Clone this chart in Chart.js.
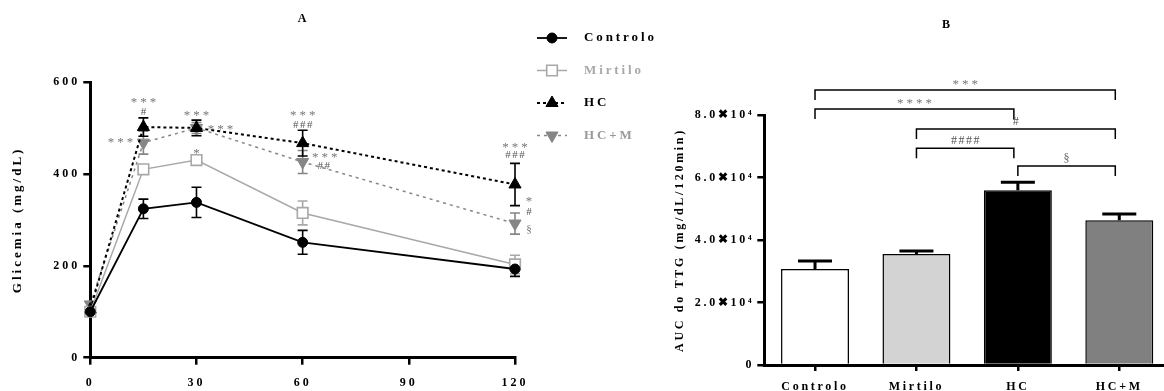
<!DOCTYPE html>
<html lang="pt">
<head>
<meta charset="UTF-8">
<meta name="viewport" content="width=device-width, initial-scale=1.0">
<title>Glicemia - TTG</title>
<script src="https://cdn.jsdelivr.net/npm/chart.js"></script>
<style>
  html, body { margin: 0; padding: 0; background: #fff; overflow: hidden; }
  #wrapA { position: absolute; left: 0; top: 0; width: 672px; height: 391px; }
  #wrapB { position: absolute; left: 672px; top: 0; width: 500px; height: 391px; }
</style>
</head>
<body>
<div id="wrapA"><canvas id="chartA"></canvas></div>
<div id="wrapB"><canvas id="chartB"></canvas></div>

<script>
// Painel A - glicemia ao longo do TTG (min)
const tempos = [0, 15, 30, 60, 120];
const grupos = ['Controlo', 'Mirtilo', 'HC', 'HC+M'];
const glicControlo = [100, 324, 338, 251, 193];
const glicMirtilo  = [100, 410, 430, 315, 203];
const glicHC       = [105, 502, 500, 467, 377];
const glicHCM      = [116, 468, 500, 426, 292];
const semControlo  = [6, 21, 33, 26, 16];
const semMirtilo   = [5, 10, 8, 26, 20];
const semHC        = [5, 20, 17, 28, 46];
const semHCM       = [5, 25, 12, 25, 23];
const xTicksA = [0, 30, 60, 90, 120];
const yTicksA = [0, 200, 400, 600];

// Painel B - AUC do TTG
const aucMedia = [30700, 35500, 55900, 46300];
const aucSem   = [2600, 1000, 2600, 2000];
const yTicksB  = [0, 20000, 40000, 60000, 80000];

const fonte = '"Liberation Serif", "Times New Roman", serif';
Chart.defaults.font.family = fonte;
Chart.defaults.color = '#000';

const medias = [glicControlo, glicMirtilo, glicHC, glicHCM];
const erros = [semControlo, semMirtilo, semHC, semHCM];

const estilos = [
  { cor: '#000000', ponto: 'circle',   raio: 5,   fundo: '#000000', traco: [],     largura: 1.8, rot: 0,   borda: 1,   texto: '#000000' },
  { cor: '#a8a8a8', ponto: 'rect',     raio: 7.5, fundo: '#ffffff', traco: [],     largura: 1.5, rot: 0,   borda: 1.6, texto: '#a8a8a8' },
  { cor: '#000000', ponto: 'triangle', raio: 7,   fundo: '#000000', traco: [3, 3], largura: 2,   rot: 0,   borda: 1,   texto: '#000000' },
  { cor: '#868686', ponto: 'triangle', raio: 7,   fundo: '#868686', traco: [3, 4], largura: 1.5, rot: 180, borda: 1,   texto: '#9a9a9a' }
];

// espacamento das letras (texto do GraphPad)
const espacamento = {
  id: 'espacamento',
  beforeLayout(chart, args, opts) { chart.ctx.letterSpacing = opts.px + 'px'; },
  beforeDraw(chart, args, opts) { chart.ctx.letterSpacing = opts.px + 'px'; }
};

const tituloPainel = {
  id: 'tituloPainel',
  afterDraw(chart, args, opts) {
    const ctx = chart.ctx;
    ctx.save();
    ctx.font = 'bold 12px ' + fonte;
    ctx.letterSpacing = '0px';
    ctx.fillStyle = '#000';
    ctx.textAlign = 'center';
    ctx.textBaseline = 'middle';
    ctx.fillText(opts.texto, opts.x, opts.y);
    ctx.restore();
  }
};

function eixoBase(extra) {
  return Object.assign({
    grid: { drawOnChartArea: false, drawTicks: true, tickLength: 7, lineWidth: 2.5, color: '#000' },
    border: { width: 3, color: '#000' },
    ticks: { color: '#000', font: { size: 12, weight: 'bold' } }
  }, extra);
}

// ---------- Painel A ----------
const barrasErroA = {
  id: 'barrasErroA',
  beforeDatasetsDraw(chart) {
    const { ctx, scales: { x, y } } = chart;
    ctx.save();
    ctx.setLineDash([]);
    for (let i = chart.data.datasets.length - 1; i >= 0; i--) {
      const ds = chart.data.datasets[i];
      ctx.strokeStyle = estilos[i].cor;
      ctx.lineWidth = 1.6;
      ds.data.forEach((p, k) => {
        const px = x.getPixelForValue(p.x);
        const y1 = y.getPixelForValue(p.y + erros[i][k]);
        const y2 = y.getPixelForValue(p.y - erros[i][k]);
        ctx.beginPath();
        ctx.moveTo(px, y1); ctx.lineTo(px, y2);
        ctx.moveTo(px - 5, y1); ctx.lineTo(px + 5, y1);
        ctx.moveTo(px - 5, y2); ctx.lineTo(px + 5, y2);
        ctx.stroke();
      });
    }
    ctx.restore();
  }
};

// significancias: serie, tempo, texto e deslocamento em px
const notasA = [
  { s: 2, t: 15,  txt: '***', dx: 0,  dy: -26, cor: '#777' },
  { s: 2, t: 15,  txt: '#',   dx: 0,  dy: -15, cor: '#555' },
  { s: 3, t: 15,  txt: '***', dx: -23, dy: -2, cor: '#777' },
  { s: 2, t: 30,  txt: '***', dx: 0,  dy: -14, cor: '#777' },
  { s: 3, t: 30,  txt: '***', dx: 24, dy: 0,   cor: '#777' },
  { s: 1, t: 30,  txt: '*',   dx: 0,  dy: -9,  cor: '#777' },
  { s: 2, t: 60,  txt: '***', dx: 0,  dy: -30, cor: '#777' },
  { s: 2, t: 60,  txt: '###', dx: 0,  dy: -18, cor: '#555' },
  { s: 3, t: 60,  txt: '***', dx: 22, dy: -6,  cor: '#777' },
  { s: 3, t: 60,  txt: '##',  dx: 21, dy: 4,   cor: '#555' },
  { s: 2, t: 120, txt: '***', dx: 0,  dy: -39, cor: '#777' },
  { s: 2, t: 120, txt: '###', dx: 0,  dy: -29, cor: '#555' },
  { s: 3, t: 120, txt: '*',   dx: 14, dy: -24, cor: '#777' },
  { s: 3, t: 120, txt: '#',   dx: 14, dy: -11, cor: '#555' },
  { s: 3, t: 120, txt: '§',   dx: 14, dy: 6,   cor: '#777' }
];

const notasPluginA = {
  id: 'notasPluginA',
  afterDatasetsDraw(chart) {
    const { ctx, scales: { x, y } } = chart;
    ctx.save();
    ctx.textAlign = 'center';
    ctx.textBaseline = 'middle';
    notasA.forEach(n => {
      const k = tempos.indexOf(n.t);
      const px = x.getPixelForValue(n.t) + n.dx;
      const py = y.getPixelForValue(medias[n.s][k]) + n.dy;
      const ast = n.txt.indexOf('*') >= 0;
      ctx.font = (ast ? '13px ' : '11px ') + fonte;
      ctx.letterSpacing = ast ? '3px' : '1.5px';
      ctx.fillStyle = n.cor;
      ctx.fillText(n.txt, px + (ast ? 1.5 : 0.75), py + (ast ? 2 : 0));
    });
    ctx.restore();
  }
};

const legendaA = {
  id: 'legendaA',
  afterDraw(chart) {
    const ctx = chart.ctx;
    ctx.save();
    chart.data.datasets.forEach((ds, i) => {
      const y = 38 + i * 32.5;
      ctx.strokeStyle = ds.borderColor;
      ctx.lineWidth = ds.borderWidth;
      ctx.setLineDash(ds.borderDash);
      ctx.beginPath();
      ctx.moveTo(537, y); ctx.lineTo(567, y);
      ctx.stroke();
      ctx.setLineDash([]);
      ctx.fillStyle = ds.pointBackgroundColor;
      ctx.strokeStyle = ds.pointBorderColor;
      ctx.lineWidth = ds.pointBorderWidth;
      Chart.helpers.drawPoint(ctx, {
        pointStyle: ds.pointStyle, radius: ds.pointRadius,
        rotation: ds.pointRotation, borderWidth: ds.pointBorderWidth
      }, 552, y);
      ctx.font = 'bold 13px ' + fonte;
      ctx.letterSpacing = '2.9px';
      ctx.fillStyle = estilos[i].texto;
      ctx.textAlign = 'left';
      ctx.textBaseline = 'middle';
      ctx.fillText(ds.label, 584, y);
    });
    ctx.restore();
  }
};

new Chart(document.getElementById('chartA'), {
  type: 'line',
  data: {
    datasets: grupos.map((g, i) => ({
      label: g,
      data: tempos.map((t, k) => ({ x: t, y: medias[i][k] })),
      borderColor: estilos[i].cor,
      backgroundColor: estilos[i].fundo,
      borderWidth: estilos[i].largura,
      borderDash: estilos[i].traco,
      pointStyle: estilos[i].ponto,
      pointRadius: estilos[i].raio,
      pointRotation: estilos[i].rot,
      pointBackgroundColor: estilos[i].fundo,
      pointBorderColor: estilos[i].cor,
      pointBorderWidth: estilos[i].borda,
      tension: 0,
      clip: false
    }))
  },
  options: {
    responsive: true,
    maintainAspectRatio: false,
    animation: false,
    layout: { padding: { top: 82, left: 8, right: 157, bottom: 0 } },
    plugins: {
      legend: { display: false },
      tooltip: { enabled: false },
      espacamento: { px: 3 },
      tituloPainel: { texto: 'A', x: 302, y: 19 }
    },
    scales: {
      x: eixoBase({
        type: 'linear', min: 0, max: 120,
        afterBuildTicks(s) { s.ticks = xTicksA.map(v => ({ value: v })); },
        afterFit(s) { s.height = 33.3; },
        ticks: { color: '#000', padding: 11, maxRotation: 0, font: { size: 12, weight: 'bold' } }
      }),
      y: eixoBase({
        min: 0, max: 600,
        afterBuildTicks(s) { s.ticks = yTicksA.map(v => ({ value: v })); },
        afterFit(s) { s.width = 82.3; },
        ticks: { color: '#000', padding: 3, font: { size: 12, weight: 'bold' } },
        title: { display: true, text: 'Glicemia (mg/dL)', color: '#000',
                 font: { size: 13, weight: 'bold' }, padding: { top: 2, bottom: 0 } }
      })
    }
  },
  plugins: [espacamento, barrasErroA, notasPluginA, legendaA, tituloPainel]
});

// ---------- Painel B ----------
const coresBarras = ['#ffffff', '#d3d3d3', '#000000', '#808080'];

// comparacoes (indice das barras, altura na escala, texto)
const chavesB = [
  { de: 0, ate: 3, nivel: 88000, txt: '***',  cor: '#777' },
  { de: 0, ate: 2, nivel: 81900, txt: '****', cor: '#777' },
  { de: 1, ate: 3, nivel: 75500, txt: '#',    cor: '#555' },
  { de: 1, ate: 2, nivel: 69400, txt: '####', cor: '#555' },
  { de: 2, ate: 3, nivel: 63700, txt: '§',    cor: '#666' }
];

const errosB = {
  id: 'errosB',
  afterDatasetsDraw(chart) {
    const { ctx, scales: { y } } = chart;
    const meta = chart.getDatasetMeta(0);
    ctx.save();
    ctx.strokeStyle = '#000';
    ctx.lineWidth = 3;
    meta.data.forEach((bar, k) => {
      const yt = y.getPixelForValue(aucMedia[k]);
      const ye = y.getPixelForValue(aucMedia[k] + aucSem[k]);
      ctx.beginPath();
      ctx.moveTo(bar.x, yt); ctx.lineTo(bar.x, ye);
      ctx.moveTo(bar.x - 17, ye); ctx.lineTo(bar.x + 17, ye);
      ctx.stroke();
    });
    ctx.restore();
  }
};

const chavesPluginB = {
  id: 'chavesPluginB',
  afterDraw(chart) {
    const { ctx, scales: { x, y } } = chart;
    ctx.save();
    chavesB.forEach(c => {
      const x1 = x.getPixelForValue(c.de);
      const x2 = x.getPixelForValue(c.ate) - 4;
      const yl = y.getPixelForValue(c.nivel);
      ctx.strokeStyle = '#000';
      ctx.lineWidth = 1.5;
      ctx.beginPath();
      ctx.moveTo(x1, yl + 10); ctx.lineTo(x1, yl); ctx.lineTo(x2, yl); ctx.lineTo(x2, yl + 10);
      ctx.stroke();
      const ast = c.txt.indexOf('*') >= 0;
      ctx.font = (ast ? '13px ' : '12px ') + fonte;
      ctx.letterSpacing = ast ? '3px' : '1.5px';
      ctx.fillStyle = c.cor;
      ctx.textAlign = 'center';
      ctx.textBaseline = 'middle';
      ctx.fillText(c.txt, (x1 + x2) / 2 + (ast ? 1.5 : 0.75), yl - (ast ? 5 : 7));
    });
    ctx.restore();
  }
};

new Chart(document.getElementById('chartB'), {
  type: 'bar',
  data: {
    labels: grupos,
    datasets: [{
      data: aucMedia,
      backgroundColor: coresBarras,
      borderColor: '#000',
      borderWidth: 1.5,
      barPercentage: 0.67,
      categoryPercentage: 1
    }]
  },
  options: {
    responsive: true,
    maintainAspectRatio: false,
    animation: false,
    layout: { padding: { top: 115, left: 0, right: 2, bottom: 0 } },
    plugins: {
      legend: { display: false },
      tooltip: { enabled: false },
      espacamento: { px: 2.7 },
      tituloPainel: { texto: 'B', x: 274, y: 25 }
    },
    scales: {
      x: eixoBase({
        grid: { offset: false, drawOnChartArea: false, tickLength: 6, lineWidth: 2.5, color: '#000' },
        afterFit(s) { s.height = 26; },
        ticks: { color: '#000', padding: 9, maxRotation: 0, font: { size: 12, weight: 'bold' } }
      }),
      y: eixoBase({
        min: 0, max: 80000,
        afterBuildTicks(s) { s.ticks = yTicksB.map(v => ({ value: v })); },
        afterFit(s) { s.width = 92.3; },
        ticks: {
          color: '#000', padding: 3, font: { size: 12, weight: 'bold' },
          callback: v => v === 0 ? '0' : (v / 1e4).toFixed(1) + '✖10⁴'
        },
        title: { display: true, text: 'AUC do TTG (mg/dL/120min)', color: '#000',
                 font: { size: 12, weight: 'bold' }, padding: { top: 1, bottom: 0 } }
      })
    }
  },
  plugins: [espacamento, errosB, chavesPluginB, tituloPainel]
});
</script>
</body>
</html>
